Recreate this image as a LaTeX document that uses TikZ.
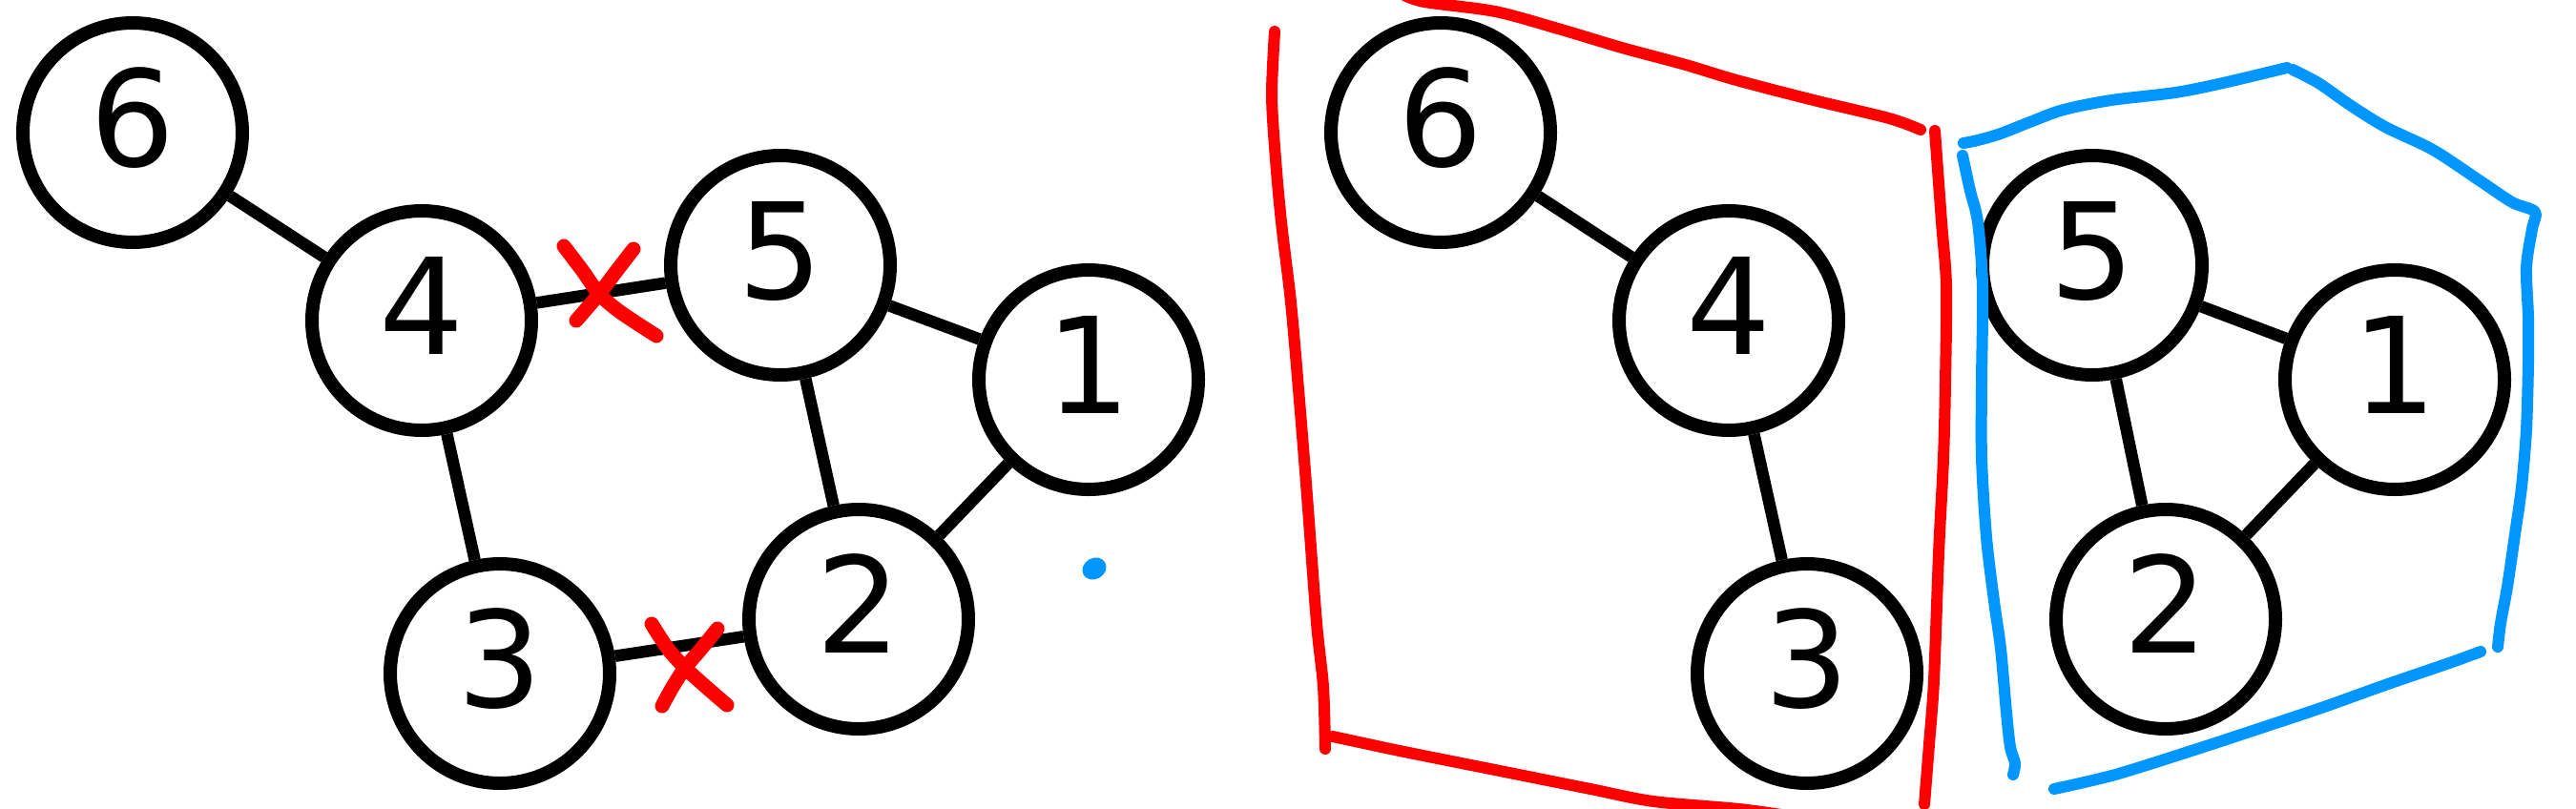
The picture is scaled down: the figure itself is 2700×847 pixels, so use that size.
\documentclass[tikz,border=0pt]{standalone}
\usepackage{fontspec}
\setmainfont{DejaVu Sans}
\definecolor{penred}{RGB}{255,0,0}
\definecolor{penblue}{RGB}{0,150,255}
\begin{document}
\begin{tikzpicture}[x=1pt,y=-1pt,
  vertex/.style={circle, draw=black, line width=14pt, fill=white, minimum size=230pt,
    inner sep=0pt, font=\fontsize{140}{160}\selectfont, text height=102pt, text depth=32pt},
  link/.style={line width=12.5pt},
  redpen/.style={draw=penred, line width=12pt, line cap=round, line join=round},
  crosspen/.style={draw=penred, line width=15pt, line cap=round, line join=round},
  bluepen/.style={draw=penblue, line width=12pt, line cap=round, line join=round}]
\fill[white] (0,0) rectangle (2700,847);
\useasboundingbox (0,0) rectangle (2700,847);

% left graph
\node[vertex] (L6) at (139,139) {6};
\node[vertex] (L4) at (442,336) {4};
\node[vertex] (L5) at (818,278) {5};
\node[vertex] (L1) at (1141,398) {1};
\node[vertex] (L2) at (900,649) {2};
\node[vertex] (L3) at (524,706) {3};
\draw[link] (L6) -- (L4);
\draw[link] (L4) -- (L5);
\draw[link] (L4) -- (L3);
\draw[link] (L5) -- (L1);
\draw[link] (L5) -- (L2);
\draw[link] (L1) -- (L2);
\draw[link] (L3) -- (L2);

% right graph
\node[vertex] (R6) at (1510,139) {6};
\node[vertex] (R4) at (1812,336) {4};
\node[vertex] (R5) at (2193,278) {5};
\node[vertex] (R1) at (2510,398) {1};
\node[vertex] (R2) at (2270,649) {2};
\node[vertex] (R3) at (1894,706) {3};
\draw[link] (R6) -- (R4);
\draw[link] (R4) -- (R3);
\draw[link] (R5) -- (R1);
\draw[link] (R5) -- (R2);
\draw[link] (R1) -- (R2);

% red crosses
\draw[crosspen] plot[smooth] coordinates {(591,258) (610,283) (628,308) (650,327) (688,352)};
\draw[crosspen] plot[smooth] coordinates {(664,261) (647,283) (628,308) (604,336)};
\draw[crosspen] plot[smooth] coordinates {(683,654) (700,680) (718,700) (740,720) (762,739)};
\draw[crosspen] plot[smooth] coordinates {(752,659) (735,680) (718,700) (705,720) (694,740)};

% blue dot
\fill[penblue, rotate around={30:(1147,596)}] (1147,596) ellipse [x radius=13, y radius=11];

% red outline
\draw[redpen] plot[smooth] coordinates {(1470,-6) (1493,2) (1567,12) (1633,30) (1700,50) (1767,68) (1820,84) (1901,105) (1980,124) (2013,136)};
\draw[redpen] plot[smooth] coordinates {(2028,137) (2035,233) (2040,300) (2039,400) (2037,480) (2032,580) (2027,713) (2022,780) (2017,843)};
\draw[redpen] plot[smooth] coordinates {(1336,33) (1333,100) (1337,167) (1343,233) (1353,317) (1362,420) (1370,520) (1380,653) (1387,720) (1389,785)};
\draw[redpen] plot[smooth] coordinates {(1397,772) (1467,787) (1567,807) (1667,827) (1733,840) (1823,848) (1880,856)};

% blue outline
\draw[bluepen] plot[smooth] coordinates {(2058,150) (2073,147) (2097,140) (2130,127) (2163,115) (2213,105) (2280,97) (2330,87) (2397,71)};
\draw[bluepen] plot[smooth] coordinates {(2403,73) (2430,87) (2463,110) (2500,133) (2550,157) (2600,190) (2633,212) (2657,222) (2654,240) (2648,280) (2650,333) (2650,380) (2648,450) (2643,510) (2636,560) (2628,615) (2621,653) (2618,678)};
\draw[bluepen] plot[smooth] coordinates {(2600,683) (2567,695) (2500,718) (2433,742) (2367,764) (2300,786) (2217,812) (2153,827)};
\draw[bluepen] plot[smooth] coordinates {(2057,163) (2065,200) (2073,233) (2078,300) (2077,400) (2077,480) (2082,563) (2090,630) (2097,680) (2103,747) (2107,783) (2112,800) (2110,812)};
\end{tikzpicture}
\end{document}
